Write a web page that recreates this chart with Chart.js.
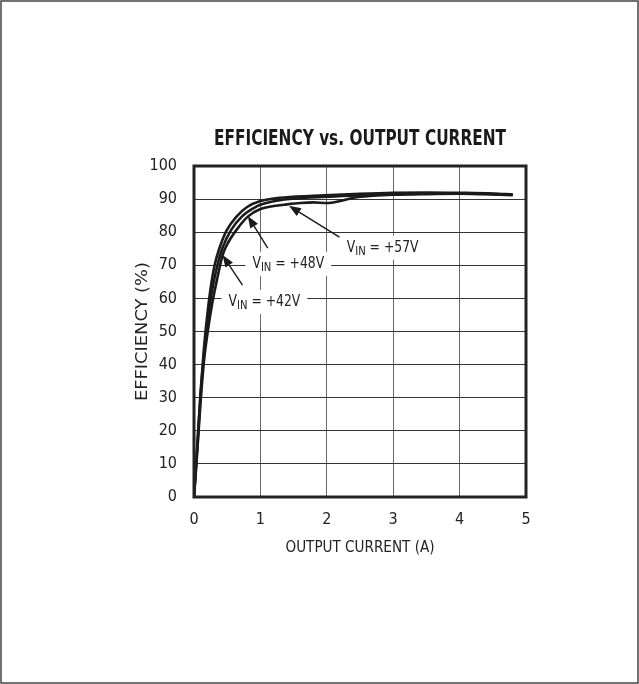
<!DOCTYPE html>
<html><head><meta charset="utf-8">
<script src="https://cdn.jsdelivr.net/npm/chart.js@4.4.1/dist/chart.umd.min.js"></script>
<style>html,body{margin:0;padding:0;background:#fff;} canvas{display:block;}</style>
</head><body>
<canvas id="c" width="639" height="684"></canvas>
<script>
const FONT = '"Liberation Sans Narrow", "DejaVu Sans Condensed", "Roboto", sans-serif';
const titleText = 'EFFICIENCY vs. OUTPUT CURRENT';
const xTitleText = 'OUTPUT CURRENT (A)';
const yTitleText = 'EFFICIENCY (%)';
const xTicks = [0, 1, 2, 3, 4, 5];
const yTicks = [0, 10, 20, 30, 40, 50, 60, 70, 80, 90, 100];

// VIN = +42V (outermost curve)
const current42 = [0, 0.05, 0.1, 0.15, 0.2, 0.25, 0.31, 0.38, 0.49, 0.64, 0.8, 1.0, 1.29, 1.79, 2.5, 3.0, 3.5, 4.0, 4.5, 4.8];
const eff42     = [0, 16, 32, 45, 55, 63, 70, 75, 80.5, 84.7, 87.6, 89.4, 90.4, 91.0, 91.6, 91.9, 92.0, 91.9, 91.7, 91.4];
// VIN = +48V (middle curve)
const current48 = [0, 0.05, 0.1, 0.15, 0.2, 0.26, 0.34, 0.43, 0.56, 0.72, 0.9, 1.0, 1.24, 1.54, 2.0, 2.5, 3.0, 3.5, 4.0, 4.5, 4.8];
const eff48     = [0, 15, 31, 43, 52, 61, 69, 75.3, 80.7, 84.7, 87.3, 88.3, 89.5, 90.2, 90.7, 91.2, 91.5, 91.7, 91.7, 91.5, 91.3];
// VIN = +57V (innermost curve)
const current57 = [0, 0.05, 0.1, 0.15, 0.2, 0.27, 0.35, 0.43, 0.51, 0.64, 0.81, 1.0, 1.2, 1.4, 1.6, 1.8, 2.0, 2.2, 2.4, 2.7, 3.0, 3.5, 4.0, 4.5, 4.8];
const eff57     = [0, 14, 29, 41, 49, 58, 66, 73, 76.7, 80.7, 84.7, 87.0, 87.9, 88.4, 88.8, 89.0, 88.8, 89.4, 90.4, 91.0, 91.3, 91.5, 91.6, 91.4, 91.2];

const seriesNames = ['VIN = +42V', 'VIN = +48V', 'VIN = +57V'];

// annotation callouts (data units)
const callouts = [
  { text: ' = +42V', x: 0.52, y: 57.7, tail: [0.73, 64.0], tip: [0.43, 73.1] },
  { text: ' = +48V', x: 0.88, y: 69.2, tail: [1.11, 75.2], tip: [0.81, 84.9] },
  { text: ' = +57V', x: 2.3,  y: 74.1, tail: [2.19, 78.5], tip: [1.43, 88.0] }
];

function pts(xs, ys) { return xs.map((x, i) => ({ x: x, y: ys[i] })); }

const mainFont = '16px ' + FONT;
const subFont = '13px ' + FONT;
const SQ = 0.86; // horizontal condense for callout text

function calloutWidth(ctx, c) {
  ctx.font = mainFont; const w1 = ctx.measureText('V').width;
  ctx.font = subFont; const w2 = ctx.measureText('IN').width;
  ctx.font = mainFont; const w3 = ctx.measureText(c.text).width;
  return (w1 + w2 + w3) * SQ;
}

function fitText(ctx, text, cx, cy, target, rot) {
  const w = ctx.measureText(text).width;
  ctx.save();
  ctx.translate(cx, cy);
  if (rot) ctx.rotate(rot);
  ctx.scale(target / w, 1);
  ctx.fillText(text, 0, 0);
  ctx.restore();
}

const decor = {
  id: 'decor',
  beforeDatasetsDraw(chart) {
    const ctx = chart.ctx, xs = chart.scales.x, ys = chart.scales.y;
    ctx.save();
    ctx.fillStyle = '#fff';
    callouts.forEach(c => {
      const px = xs.getPixelForValue(c.x), py = ys.getPixelForValue(c.y);
      const w = calloutWidth(ctx, c);
      ctx.fillRect(px - 7, py - 16, w + 14, 24);
    });
    ctx.restore();
  },
  afterDraw(chart) {
    const ctx = chart.ctx, a = chart.chartArea, xs = chart.scales.x, ys = chart.scales.y;
    ctx.save();
    // outer frame
    ctx.strokeStyle = '#444'; ctx.lineWidth = 1.5;
    ctx.strokeRect(1, 1, 637, 682);
    // plot border
    ctx.strokeStyle = '#222'; ctx.lineWidth = 3;
    ctx.strokeRect(a.left, a.top, a.right - a.left, a.bottom - a.top);
    // title
    ctx.fillStyle = '#1a1a1a';
    ctx.font = 'bold 21px ' + FONT;
    ctx.textAlign = 'center'; ctx.textBaseline = 'middle';
    fitText(ctx, titleText, (a.left + a.right) / 2, 140, 292, 0);
    // axis titles
    ctx.fillStyle = '#222';
    ctx.font = mainFont;
    fitText(ctx, xTitleText, (a.left + a.right) / 2, 548, 149, 0);
    fitText(ctx, yTitleText, 143, (a.top + a.bottom) / 2, 139, -Math.PI / 2);
    // callouts
    ctx.textAlign = 'left'; ctx.textBaseline = 'alphabetic';
    callouts.forEach(c => {
      const px0 = xs.getPixelForValue(c.x); const py = ys.getPixelForValue(c.y);
      ctx.save();
      ctx.translate(px0, py);
      ctx.scale(SQ, 1);
      let px = 0;
      ctx.fillStyle = '#222';
      ctx.font = mainFont; ctx.fillText('V', px, 0); px += ctx.measureText('V').width;
      ctx.font = subFont; ctx.fillText('IN', px, 3); px += ctx.measureText('IN').width;
      ctx.font = mainFont; ctx.fillText(c.text, px, 0);
      ctx.restore();
      // arrow
      const tx = xs.getPixelForValue(c.tail[0]), ty = ys.getPixelForValue(c.tail[1]);
      const hx = xs.getPixelForValue(c.tip[0]), hy = ys.getPixelForValue(c.tip[1]);
      const ang = Math.atan2(hy - ty, hx - tx);
      const L = 12, W = 4.5;
      const bx = hx - L * Math.cos(ang), by = hy - L * Math.sin(ang);
      ctx.strokeStyle = '#1a1a1a'; ctx.lineWidth = 1.4;
      ctx.beginPath(); ctx.moveTo(tx, ty); ctx.lineTo(bx, by); ctx.stroke();
      ctx.fillStyle = '#1a1a1a';
      ctx.beginPath();
      ctx.moveTo(hx, hy);
      ctx.lineTo(bx + W * Math.sin(ang), by - W * Math.cos(ang));
      ctx.lineTo(bx - W * Math.sin(ang), by + W * Math.cos(ang));
      ctx.closePath(); ctx.fill();
    });
    ctx.restore();
  }
};

const lineStyle = { borderColor: '#1a1a1a', borderWidth: 2.6, pointRadius: 0, fill: false, cubicInterpolationMode: 'monotone' };

new Chart(document.getElementById('c'), {
  type: 'line',
  data: {
    datasets: [
      Object.assign({ label: seriesNames[0], data: pts(current42, eff42) }, lineStyle),
      Object.assign({ label: seriesNames[1], data: pts(current48, eff48) }, lineStyle),
      Object.assign({ label: seriesNames[2], data: pts(current57, eff57) }, lineStyle)
    ]
  },
  options: {
    responsive: false,
    animation: false,
    devicePixelRatio: 1,
    layout: { padding: { left: 0, top: 166, right: 113, bottom: 0 } },
    plugins: { legend: { display: false }, tooltip: { enabled: false } },
    scales: {
      x: {
        type: 'linear', min: 0, max: 5,
        afterBuildTicks: s => { s.ticks = xTicks.map(v => ({ value: v })); },
        afterFit: s => { s.height = 187; },
        grid: { color: '#6a6a6a', lineWidth: 1, drawTicks: false },
        border: { display: false },
        ticks: { padding: 13, color: '#222', font: { family: FONT, size: 16 }, maxRotation: 0 }
      },
      y: {
        type: 'linear', min: 0, max: 100,
        afterBuildTicks: s => { s.ticks = yTicks.map(v => ({ value: v })); },
        afterFit: s => { s.width = 194; },
        grid: { color: '#333', lineWidth: 1, drawTicks: false },
        border: { display: false },
        ticks: { padding: 17, color: '#222', font: { family: FONT, size: 16 } }
      }
    }
  },
  plugins: [decor]
});
</script>
</body></html>
